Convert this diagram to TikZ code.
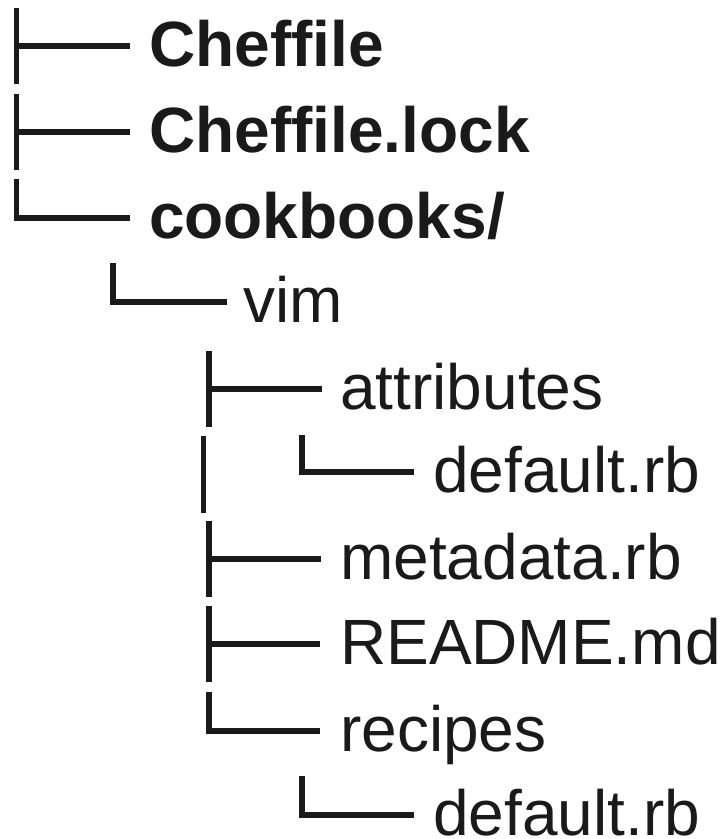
\documentclass[tikz,border=0pt]{standalone}
\usepackage{fontspec}
\setmainfont{Liberation Sans}
\definecolor{ink}{HTML}{1A1A1A}
\tikzset{
  treeline/.style={line width=5.5pt, draw=ink, line cap=butt, line join=miter},
  entry/.style={anchor=base west, inner sep=0pt, text=ink, font=\fontsize{64}{70}\selectfont},
  bentry/.style={entry, font=\fontsize{64}{70}\selectfont\bfseries},
}
\begin{document}
\begin{tikzpicture}[x=1pt,y=-1pt]
\useasboundingbox (0,0) rectangle (721,839);
% text nodes
\node[bentry] (cheffile) at (149,66) {Cheffile};
\node[bentry] (lock)     at (149,152) {Cheffile.lock};
\node[bentry] (cookbooks) at (149,238) {cookbooks/};
\node[entry] (vim)       at (243,322) {vim};
\node[entry] (attrs)     at (340,409) {attributes};
\node[entry] (adefault)  at (433,492) {default.rb};
\node[entry] (metadata)  at (340,579) {metadata.rb};
\node[entry] (readme)    at (340,664) {README.md};
\node[entry] (recipes)   at (340,751) {recipes};
\node[entry] (rdefault)  at (433,835) {default.rb};
% branch coordinates
\coordinate (b1) at (16.5,46);
\coordinate (b2) at (16.5,132);
\coordinate (b3) at (16.5,218);
\coordinate (b4) at (113,302);
\coordinate (b5) at (209,389);
\coordinate (b6) at (302,472);
\coordinate (b7) at (209,559);
\coordinate (b8) at (209,644);
\coordinate (b9) at (209,731);
\coordinate (b10) at (302,815);
\coordinate (bar) at (203.5,474.5);
% level 0
\draw[treeline] ([yshift=38pt]b1) -- ([yshift=-38pt]b1);
\draw[treeline] (b1) -- ([xshift=-19pt]cheffile.west |- b1);
\draw[treeline] ([yshift=38pt]b2) -- ([yshift=-38pt]b2);
\draw[treeline] (b2) -- ([xshift=-19pt]lock.west |- b2);
\draw[treeline] ([yshift=39pt]b3) -- (b3) -- ([xshift=-19pt]cookbooks.west |- b3);
% level 1
\draw[treeline] ([yshift=39pt]b4) -- (b4) -- ([xshift=-16pt]vim.west |- b4);
% level 2
\draw[treeline] ([yshift=38pt]b5) -- ([yshift=-38pt]b5);
\draw[treeline] (b5) -- ([xshift=-18pt]attrs.west |- b5);
\draw[treeline] ([yshift=38.5pt]bar) -- ([yshift=-38.5pt]bar);
\draw[treeline] ([yshift=37pt]b6) -- (b6) -- ([xshift=-19pt]adefault.west |- b6);
\draw[treeline] ([yshift=38pt]b7) -- ([yshift=-38pt]b7);
\draw[treeline] (b7) -- ([xshift=-19pt]metadata.west |- b7);
\draw[treeline] ([yshift=38pt]b8) -- ([yshift=-38pt]b8);
\draw[treeline] (b8) -- ([xshift=-20pt]readme.west |- b8);
\draw[treeline] ([yshift=39pt]b9) -- (b9) -- ([xshift=-20pt]recipes.west |- b9);
% level 3
\draw[treeline] ([yshift=39pt]b10) -- (b10) -- ([xshift=-19pt]rdefault.west |- b10);
\end{tikzpicture}
\end{document}
